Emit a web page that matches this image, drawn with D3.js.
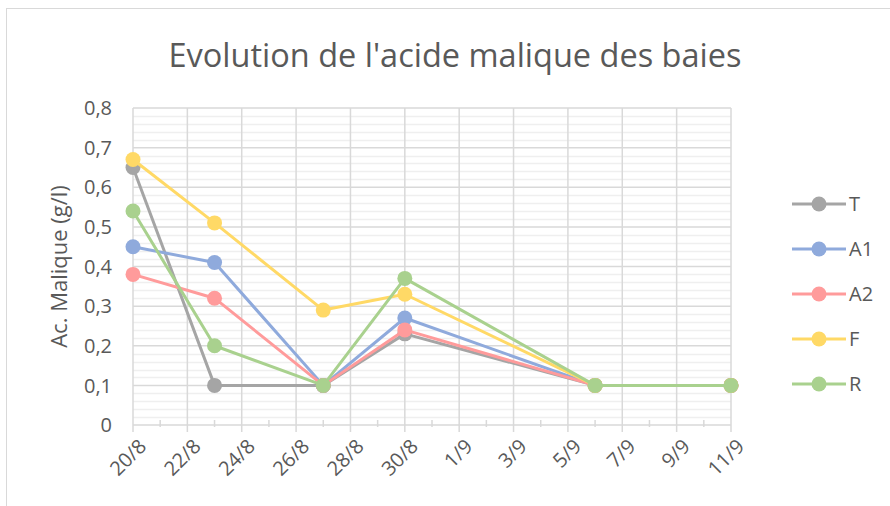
<!DOCTYPE html>
<html>
<head>
  <meta charset="utf-8">
  <title>Evolution de l'acide malique des baies</title>
  <script src="https://d3js.org/d3.v7.min.js"></script>
  <style>
    body { margin: 0; background: #fff; font-family: "Open Sans", Arial, sans-serif; }
    svg text { fill: #595959; }
  </style>
</head>
<body>
  <div id="chart"></div>
  <script>
    // sampling dates
    const dates = ['2019-08-20', '2019-08-23', '2019-08-27', '2019-08-30', '2019-09-06', '2019-09-11'];
    const seriesNames = ['T', 'A1', 'A2', 'F', 'R'];
    const valuesT  = [0.65, 0.10, 0.10, 0.23, 0.10, 0.10];
    const valuesA1 = [0.45, 0.41, 0.10, 0.27, 0.10, 0.10];
    const valuesA2 = [0.38, 0.32, 0.10, 0.24, 0.10, 0.10];
    const valuesF  = [0.67, 0.51, 0.29, 0.33, 0.10, 0.10];
    const valuesR  = [0.54, 0.20, 0.10, 0.37, 0.10, 0.10];
    const yTicks = [0, 0.1, 0.2, 0.3, 0.4, 0.5, 0.6, 0.7, 0.8];

    const colors = { T: '#A5A5A5', A1: '#8FAADC', A2: '#FF9B9B', F: '#FFD966', R: '#A9D18E' };
    const series = [
      { name: 'T', values: valuesT },
      { name: 'A1', values: valuesA1 },
      { name: 'A2', values: valuesA2 },
      { name: 'F', values: valuesF },
      { name: 'R', values: valuesR }
    ];

    const width = 890, height = 506;
    const margin = { top: 108, left: 133, right: 159, bottom: 81 };
    const parse = d3.timeParse('%Y-%m-%d');

    const svg = d3.select('#chart').append('svg')
      .attr('width', width)
      .attr('height', height);

    // chart frame
    svg.append('rect')
      .attr('x', 6.5).attr('y', 8.5)
      .attr('width', 900).attr('height', 520)
      .attr('fill', 'none')
      .attr('stroke', '#d9d9d9');

    const x = d3.scaleTime()
      .domain([parse('2019-08-20'), parse('2019-09-11')])
      .range([margin.left, width - margin.right]);
    const y = d3.scaleLinear()
      .domain([0, 0.8])
      .range([height - margin.bottom, margin.top]);

    const g = svg.append('g');

    // minor horizontal grid
    const minor = d3.range(0, 0.8001, 0.02).filter(v => Math.abs(v * 10 - Math.round(v * 10)) > 0.01);
    g.append('g').selectAll('line')
      .data(minor).enter().append('line')
      .attr('x1', x.range()[0]).attr('x2', x.range()[1])
      .attr('y1', d => Math.round(y(d)) + 0.5).attr('y2', d => Math.round(y(d)) + 0.5)
      .attr('stroke', '#efefef').attr('stroke-width', 1.5);

    // major horizontal grid
    g.append('g').selectAll('line')
      .data(yTicks).enter().append('line')
      .attr('x1', x.range()[0]).attr('x2', x.range()[1])
      .attr('y1', d => y(d)).attr('y2', d => y(d))
      .attr('stroke', '#d9d9d9').attr('stroke-width', 1.5);

    const xMajor = d3.range(0, 23, 2).map(i => d3.timeDay.offset(parse('2019-08-20'), i));
    const xMinor = d3.range(1, 22, 2).map(i => d3.timeDay.offset(parse('2019-08-20'), i));

    // vertical grid
    g.append('g').selectAll('line')
      .data(xMajor).enter().append('line')
      .attr('x1', d => x(d)).attr('x2', d => x(d))
      .attr('y1', y(0.8)).attr('y2', y(0) + 7)
      .attr('stroke', '#d9d9d9').attr('stroke-width', 1.5);
    g.append('g').selectAll('line')
      .data(xMinor).enter().append('line')
      .attr('x1', d => x(d)).attr('x2', d => x(d))
      .attr('y1', y(0) - 5).attr('y2', y(0) + 2)
      .attr('stroke', '#d9d9d9').attr('stroke-width', 1.5);

    // y tick labels
    const fmt = d => d === 0 ? '0' : d3.format('.1f')(d).replace('.', ',');
    g.append('g').selectAll('text')
      .data(yTicks).enter().append('text')
      .attr('x', 112)
      .attr('y', d => y(d))
      .attr('dy', '0.36em')
      .attr('text-anchor', 'end')
      .style('font-size', '20px')
      .text(fmt);

    // x tick labels
    const dayFmt = d3.timeFormat('%-d/%-m');
    g.append('g').selectAll('text')
      .data(xMajor).enter().append('text')
      .attr('transform', d => `translate(${x(d) + 4},${y(0) + 12}) rotate(-45)`)
      .attr('text-anchor', 'end')
      .attr('dy', '0.75em')
      .style('font-size', '20px')
      .text(dayFmt);

    // lines and markers
    const line = d3.line()
      .x((d, i) => x(parse(dates[i])))
      .y(d => y(d));

    series.forEach(s => {
      g.append('path')
        .datum(s.values)
        .attr('d', line)
        .attr('fill', 'none')
        .attr('stroke', colors[s.name])
        .attr('stroke-width', 3)
        .attr('stroke-linejoin', 'round');
      g.append('g').selectAll('circle')
        .data(s.values).enter().append('circle')
        .attr('cx', (d, i) => x(parse(dates[i])))
        .attr('cy', d => y(d))
        .attr('r', 7.5)
        .attr('fill', colors[s.name]);
    });

    // title
    svg.append('text')
      .attr('x', 455).attr('y', 67)
      .attr('text-anchor', 'middle')
      .style('font-size', '32.5px')
      .text("Evolution de l'acide malique des baies");

    // y axis title
    svg.append('text')
      .attr('transform', `translate(67,${(y(0) + y(0.8)) / 2}) rotate(-90)`)
      .attr('text-anchor', 'middle')
      .style('font-size', '22px')
      .text('Ac. Malique (g/l)');

    // legend
    const legend = svg.append('g');
    seriesNames.forEach((name, i) => {
      const ly = 204 + i * 45;
      legend.append('line')
        .attr('x1', 792).attr('x2', 846)
        .attr('y1', ly).attr('y2', ly)
        .attr('stroke', colors[name]).attr('stroke-width', 3);
      legend.append('circle')
        .attr('cx', 819).attr('cy', ly).attr('r', 7.5)
        .attr('fill', colors[name]);
      legend.append('text')
        .attr('x', 849).attr('y', ly)
        .attr('dy', '0.36em')
        .style('font-size', '20px')
        .text(name);
    });
  </script>
</body>
</html>
